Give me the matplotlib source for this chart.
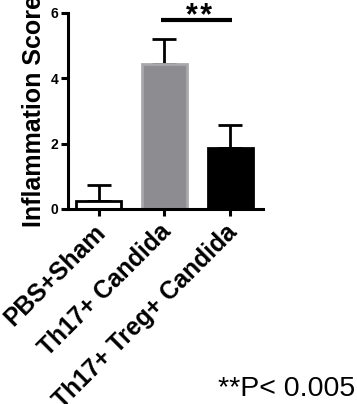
import numpy as np
import matplotlib
matplotlib.use("Agg")
import matplotlib.pyplot as plt
import matplotlib.transforms as mtransforms

plt.rcParams['font.family'] = ['Liberation Sans', 'DejaVu Sans']

# data
groups = ['PBS+Sham', 'Th17+ Candida', 'Th17+ Treg+ Candida']
means = [0.25, 4.43, 1.85]
errors = [0.48, 0.77, 0.72]
bar_colors = ['white', '#8d8d91', 'black']
edge_colors = ['black', '#a9a9ab', 'black']
yticks = [0, 2, 4, 6]
sig_pair = (1, 2)
sig_label = '*\u200a*'
note = '**P< 0.005'

fig = plt.figure(figsize=(3.57, 4.04), dpi=100)
ax = fig.add_axes([0.19, 0.483, 0.547, 0.485])

x = np.arange(len(groups))
ax.bar(x, means, width=0.69, color=bar_colors, edgecolor=edge_colors, linewidth=2, zorder=2)
ax.errorbar(x, means, yerr=[np.zeros(len(means)), errors], fmt='none', ecolor='black',
            elinewidth=2, capsize=8.5, capthick=2, zorder=1)

ax.set_xlim(-0.47, 2.5)
ax.set_ylim(0, 6)
ax.set_yticks(yticks)
ax.set_yticklabels([str(t) for t in yticks], fontsize=10, fontweight='bold')
ax.set_xticks(x)
ax.set_xticklabels(groups, rotation=45, ha='right', va='center', rotation_mode='anchor',
                   fontsize=17.7, fontweight='bold')
ax.tick_params(axis='both', width=2.2, length=5, pad=2)
ax.tick_params(axis='x', pad=9)
# nudge the slanted labels a little to the right
shift = mtransforms.ScaledTranslation(3 / 100, 0, fig.dpi_scale_trans)
for lab in ax.get_xticklabels():
    lab.set_transform(lab.get_transform() + shift)
ax.set_ylabel('Inflammation Score', fontsize=18, fontweight='bold', labelpad=3)

for side in ['top', 'right']:
    ax.spines[side].set_visible(False)
for side in ['left', 'bottom']:
    ax.spines[side].set_linewidth(2.2)

# significance bar
ax.plot([sig_pair[0] - 0.05, sig_pair[1] + 0.03], [5.78, 5.78], color='black', lw=3,
        clip_on=False, solid_capstyle='butt')
ax.text((sig_pair[0] + sig_pair[1]) / 2 + 0.03, 5.63, sig_label, ha='center', va='baseline',
        fontsize=22, fontweight='bold', clip_on=False)

fig.text(0.994, 0.005, note, ha='right', va='bottom', fontsize=20.5)

fig.savefig('out.png', dpi=100)
